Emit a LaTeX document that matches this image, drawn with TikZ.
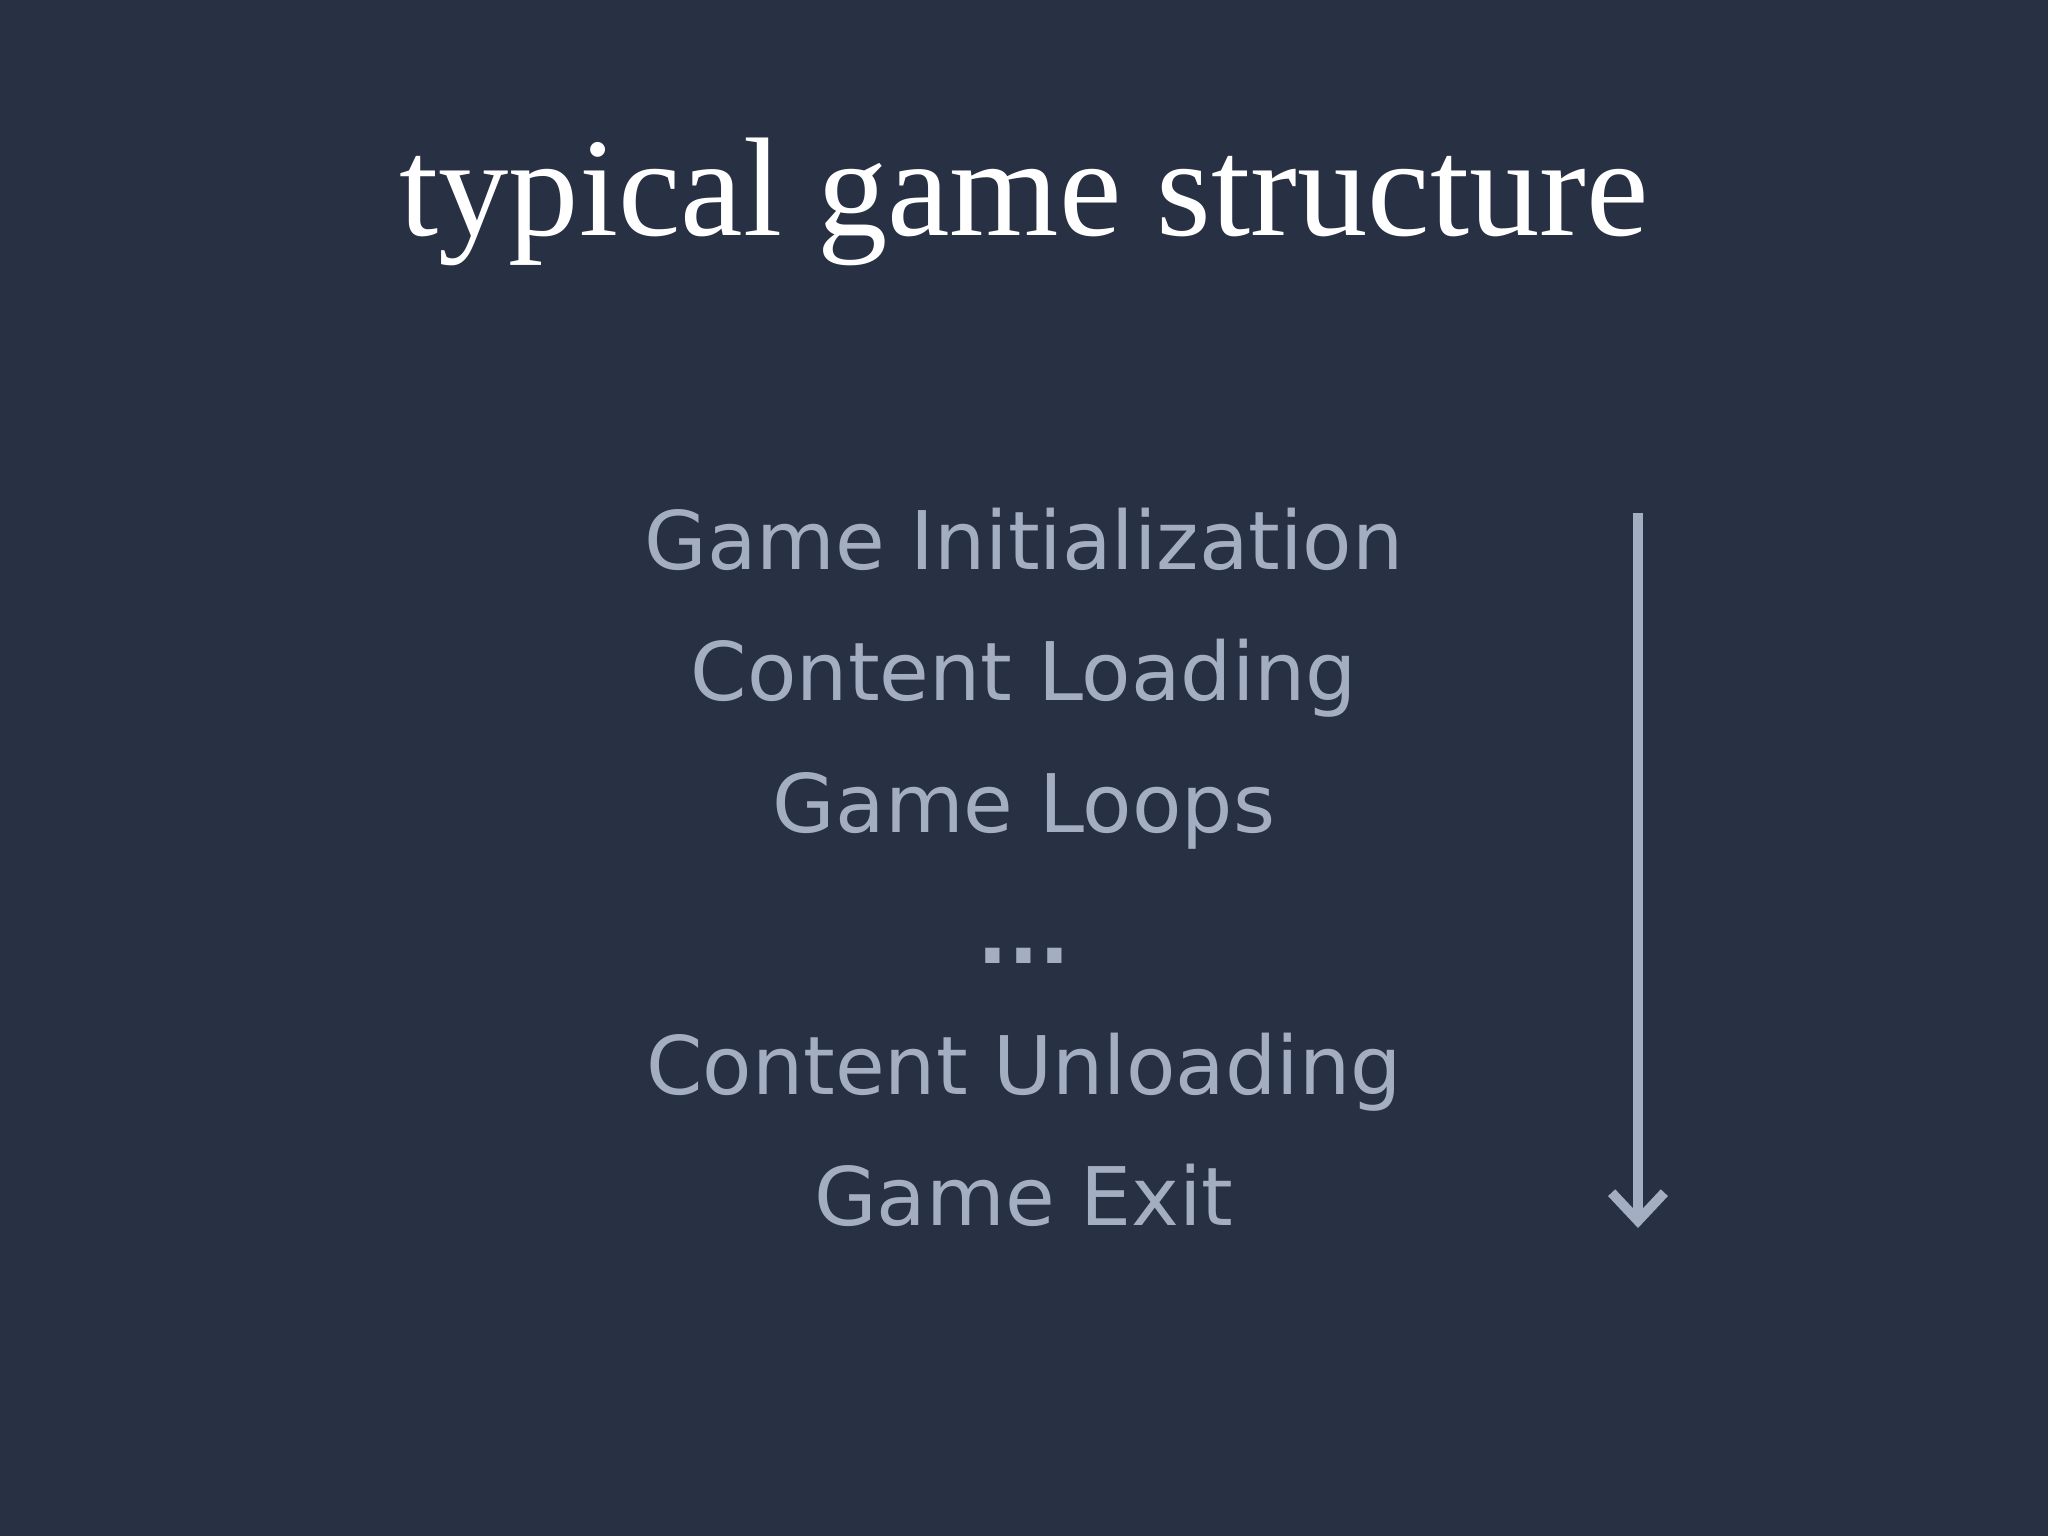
\documentclass[tikz,border=0pt]{standalone}
\usepackage{fontspec}
\setmainfont{Liberation Serif}
\newfontfamily\itemfont{DejaVu Sans}
\usetikzlibrary{arrows.meta}
\definecolor{bg}{HTML}{283044}
\definecolor{itemc}{HTML}{A4AEC3}
\tikzset{
  item/.style={text=itemc, font=\itemfont\fontsize{23}{26}\selectfont, anchor=base},
  flow/.style={draw=itemc, line width=2.8pt, -{Straight Barb[length=8pt,width=15pt,line width=2.8pt]}}
}
\begin{document}
\begin{tikzpicture}[x=1cm,y=-1cm]
\fill[bg] (0,0) rectangle (20.48,15.36);
\useasboundingbox (0,0) rectangle (20.48,15.36);
\node[text=white, font=\fontsize{40}{46}\selectfont, anchor=base] (title) at (10.24,2.36) {typical game structure};
\node[item] (n1) at (10.24,5.70) {Game Initialization};
\node[item] (n2) at (10.24,7.01) {Content Loading};
\node[item] (n3) at (10.24,8.32) {Game Loops};
\node[item, font=\itemfont\bfseries\fontsize{23}{26}\selectfont] (n4) at (10.24,9.63) {...};
\node[item] (n5) at (10.24,10.94) {Content Unloading};
\node[item] (n6) at (10.24,12.25) {Game Exit};
\coordinate (a1) at (16.38,5.13);
\coordinate (a2) at (16.38,12.28);
\draw[flow] (a1) -- (a2);
\end{tikzpicture}
\end{document}
